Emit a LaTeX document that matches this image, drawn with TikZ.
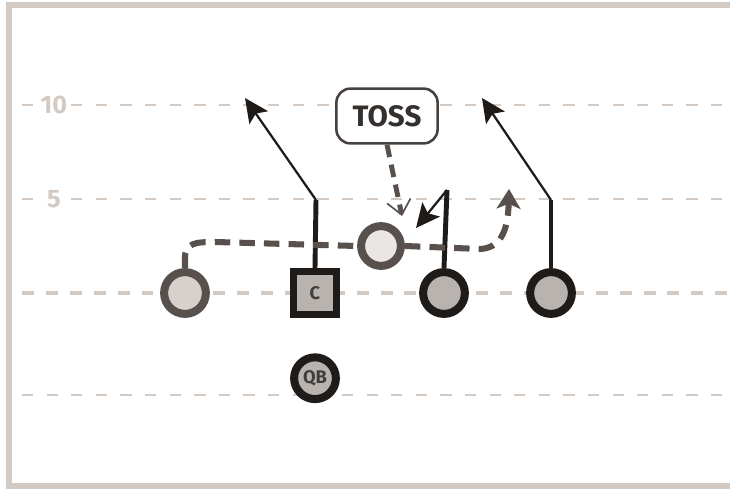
\documentclass[tikz,border=0pt]{standalone}
\usepackage{fontspec}
\setmainfont{Fira Sans}
\usetikzlibrary{arrows.meta}
\definecolor{yardgray}{HTML}{D2CAC3}
\definecolor{ringgray}{HTML}{57504D}
\definecolor{inkblack}{HTML}{1E1B19}
\definecolor{palefill}{HTML}{D6D1CD}
\definecolor{lightfill}{HTML}{E9E6E3}
\definecolor{midfill}{HTML}{B9B3AF}

\tikzstyle{frame}   = [draw=yardgray,line width=4pt]
\tikzstyle{yard}    = [draw=yardgray,line width=2pt,dash pattern=on 8pt off 9.5pt]
\tikzstyle{scrim}   = [draw=yardgray,line width=3.5pt,dash pattern=on 8.5pt off 8.5pt]
\tikzstyle{yardlbl} = [fill=white,text=yardgray,inner sep=3pt,font=\bfseries\fontsize{18}{18}\selectfont]
\tikzstyle{back}    = [draw=ringgray,circle,fill=palefill,line width=5.7pt,minimum size=29.7pt,inner sep=0pt]
\tikzstyle{pitchee} = [draw=ringgray,circle,fill=lightfill,line width=5.7pt,minimum size=28.3pt,inner sep=0pt]
\tikzstyle{lineman} = [draw=inkblack,circle,fill=midfill,line width=5.7pt,minimum size=29.7pt,inner sep=0pt,text=inkblack!85,font=\bfseries\fontsize{13}{13}\selectfont]
\tikzstyle{snapbox} = [draw=inkblack,rectangle,fill=midfill,line width=5pt,minimum size=30.4pt,inner sep=0pt,text=inkblack!85,font=\bfseries\fontsize{13}{13}\selectfont]
\tikzstyle{callout} = [draw=ringgray!80!black,rectangle,rounded corners=10pt,fill=white,line width=1.8pt,minimum width=72pt,minimum height=39pt,text=ringgray!60!black,font=\bfseries\fontsize{21}{21}\selectfont]
\tikzstyle{route}   = [draw=inkblack,line width=3.5pt]
\tikzstyle{cut}     = [draw=inkblack,line width=1.6pt,-{Stealth[length=17pt,width=16pt,inset=3.5pt]}]
\tikzstyle{sweep}   = [draw=ringgray,line width=4.3pt,dash pattern=on 11pt off 6.5pt,-{Stealth[length=14pt,width=17pt,inset=3.5pt]}]
\tikzstyle{pitch}   = [draw=ringgray,line width=3.5pt,dash pattern=on 9pt off 5.5pt,-{Straight Barb[length=10pt,width=17pt,line width=1.2pt]}]

\begin{document}
\begin{tikzpicture}[x=0.025cm,y=-0.025cm]
	\useasboundingbox (0,0) rectangle (730,492);
	\draw [frame] (730,5) -- (9,5) -- (9,486) -- (730,486);
	\draw [yard] (22,105) -- (730,105);
	\draw [yard] (22,199) -- (730,199);
	\draw [scrim] (22,293) -- (730,293);
	\draw [yard] (22,395) -- (730,395);
	\node [yardlbl] (yd 10) at (54,105) {10};
	\node [yardlbl] (yd 5) at (54,199) {5};

	\node [back] (rb) at (185,293) {};
	\node [snapbox] (c) at (315,293) {C};
	\node [lineman,below of=c,node distance=2.13cm] (qb) {QB};
	\node [lineman] (line 1) at (444,293) {};
	\node [lineman] (line 2) at (551,293) {};
	\node [pitchee] (ball) at (381,246) {};
	\node [callout] (toss) at (387,116) {TOSS};

	\coordinate (c turn) at (316,200);
	\coordinate (c end) at (245,98);
	\coordinate (m turn) at (447,190);
	\coordinate (m end) at (416,228);
	\coordinate (w turn) at (551,200);
	\coordinate (w end) at (482,98);
	\coordinate (sweep 1) at (185,258);
	\coordinate (sweep 2) at (215,242);
	\coordinate (sweep 3) at (480,249);
	\coordinate (sweep end) at (509,189);
	\coordinate (toss end) at (402,216);

	\draw [route] (c.north) -- (c turn);
	\draw [cut] (c turn) -- (c end);
	\draw [route] (line 1.north) -- (m turn);
	\draw [cut] (m turn) -- (m end);
	\draw [route] (line 2.north) -- (w turn);
	\draw [cut] (w turn) -- (w end);
	\draw [sweep,-] (rb.north) -- (sweep 1) .. controls (185,243) and (195,242) .. (sweep 2) -- (ball.west);
	\draw [sweep] (ball.east) -- (sweep 3) .. controls (500,248) and (508,232) .. (sweep end);
	\draw [pitch] (toss.south) -- (toss end);
\end{tikzpicture}
\end{document}
